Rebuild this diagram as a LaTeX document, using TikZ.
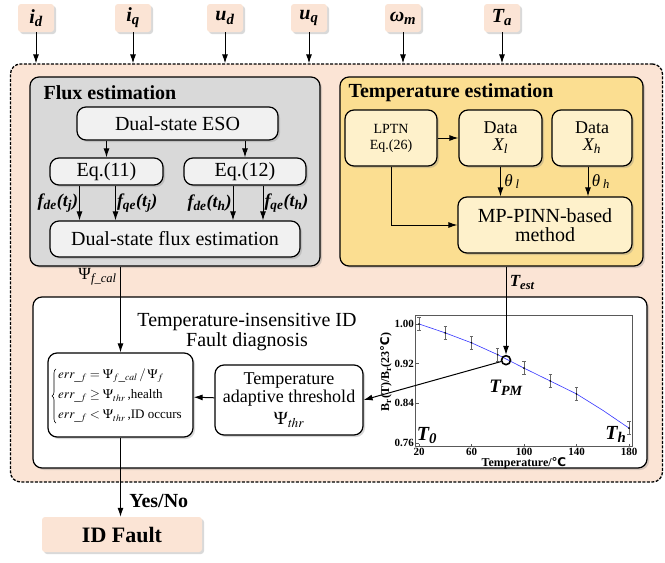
\documentclass[tikz,border=0pt]{standalone}
\usepackage{mathptmx}
\usepackage{fontspec}
\setmainfont{Liberation Serif}
\newfontfamily\dejavu{DejaVu Sans}
\usetikzlibrary{arrows.meta,shadows,decorations.pathreplacing}
\definecolor{peach}{HTML}{FBE4D5}
\definecolor{graybg}{HTML}{D9D9D9}
\definecolor{graybox}{HTML}{F1F1F1}
\definecolor{yellowbg}{HTML}{FBDE91}
\definecolor{yellowbox}{HTML}{FEF1CB}
\newcommand{\degc}{{\dejavu\char"2103}}
\newcommand{\fs}[1]{\fontsize{#1}{\numexpr#1+4\relax}\selectfont}

\begin{document}
\begin{tikzpicture}[x=1pt,y=-1pt,auto,
  >={Latex[length=9pt,width=6pt]},
  shd/.style={drop shadow={shadow xshift=2pt,shadow yshift=-2pt,opacity=0.3}},
  inp/.style={fill=peach,rounded corners=3,minimum width=36,minimum height=28,inner sep=0,shd},
  blk/.style={draw,line width=1.2pt,rounded corners=9,inner sep=0,align=center,shd},
  gbox/.style={blk,fill=graybox},
  ybox/.style={blk,fill=yellowbox},
  wbox/.style={blk,fill=white},
  flow/.style={line width=1pt}]
\useasboundingbox (0,0) rectangle (665,563);

\node[inp] (id) at (36,18) {\fs{20}\textbf{\textit{i\textsubscript{d}}}};
\node[inp] (iq) at (133,18) {\fs{20}\textbf{\textit{i\textsubscript{q}}}};
\node[inp] (ud) at (225,18) {\fs{20}\textbf{\textit{u\textsubscript{d}}}};
\node[inp] (uq) at (309,18) {\fs{20}\textbf{\textit{u\textsubscript{q}}}};
\node[inp] (wm) at (403,18) {\fs{20}\textbf{\textit{ω\textsubscript{m}}}};
\node[inp] (ta) at (502,18) {\fs{20}\textbf{\textit{T\textsubscript{a}}}};

\node[draw,line width=1.3pt,dash pattern=on 3pt off 1.5pt,rounded corners=10,fill=peach,
  minimum width=652,minimum height=418,inner sep=0] (outer) at (336.5,273) {};

\foreach \n in {id,iq,ud,uq,wm,ta}
  \draw[->,flow] (\n.south) -- (\n.south |- outer.north);

\node[blk,fill=graybg,minimum width=290,minimum height=189] (flux) at (175,171.5) {};
\node[anchor=west] (fluxt) at (40,93) {\fs{20}\textbf{Flux estimation}};
\node[gbox,minimum width=201,minimum height=33] (eso) at (177.5,123.5) {\fs{20}Dual-state ESO};
\node[gbox,minimum width=113,minimum height=27] (eq11) at (106.5,171.5) {\fs{20}Eq.(11)};
\node[gbox,minimum width=122,minimum height=27] (eq12) at (245,171.5) {\fs{20}Eq.(12)};
\node[gbox,minimum width=250,minimum height=36] (dfe) at (175,239) {\fs{20}Dual-state flux estimation};
\draw[->,flow] (eso.south -| eq11.north) -- (eq11.north);
\draw[->,flow] (eso.south -| eq12.north) -- (eq12.north);
\draw[->,flow] ([xshift=-27]eq11.south) to node[swap,inner sep=1pt]{\fs{18}\textbf{\textit{f\textsubscript{de}(t\textsubscript{j})}}} ([xshift=-27]eq11.south |- dfe.north);
\draw[->,flow] ([xshift=9]eq11.south) to node[inner sep=1pt]{\fs{18}\textbf{\textit{f\textsubscript{qe}(t\textsubscript{j})}}} ([xshift=9]eq11.south |- dfe.north);
\draw[->,flow] ([xshift=-12]eq12.south) to node[swap,inner sep=1pt]{\fs{18}\textbf{\textit{f\textsubscript{de}(t\textsubscript{h})}}} ([xshift=-12]eq12.south |- dfe.north);
\draw[->,flow] ([xshift=18]eq12.south) to node[inner sep=1pt]{\fs{18}\textbf{\textit{f\textsubscript{qe}(t\textsubscript{h})}}} ([xshift=18]eq12.south |- dfe.north);

\node[blk,fill=yellowbg,minimum width=303,minimum height=189] (temp) at (491.5,171.5) {};
\node[anchor=west] (tempt) at (345,93) {\fs{20}\textbf{Temperature estimation}};
\node[ybox,minimum width=92,minimum height=56] (lptn) at (391,138) {\fs{14}LPTN\\[4pt]\fs{14}Eq.(26)};
\node[ybox,minimum width=83,minimum height=56] (datal) at (500.5,138) {\fs{18}Data\\[5pt]\fs{18}\textit{X\textsubscript{l}}};
\node[ybox,minimum width=80,minimum height=56] (datah) at (592,138) {\fs{18}Data\\[5pt]\fs{18}\textit{X\textsubscript{h}}};
\node[ybox,minimum width=174,minimum height=56] (mp) at (545,225) {\fs{20}MP-PINN-based\\[4pt]\fs{20}method};
\draw[->,flow] (lptn) -- (datal);
\draw[->,flow] (lptn.south) |- (mp.west);
\draw[->,flow] (datal.south) to node{\fs{17}\textit{θ\,\textsubscript{l}}} (datal.south |- mp.north);
\draw[->,flow] ([xshift=-4]datah.south) to node{\fs{17}\textit{θ\,\textsubscript{h}}} ([xshift=-4]datah.south |- mp.north);

\node[blk,fill=white,minimum width=614,minimum height=171] (diag) at (340,382.5) {};
\node[align=center] (diagt) at (247,332) {\fs{20}Temperature-insensitive ID\\\fs{20}Fault diagnosis};
\node[wbox,minimum width=145,minimum height=84] (eqb) at (120.5,395) {};
\node[align=left,anchor=west,inner sep=0] (eqt) at (58,396)
  {\fs{13}$err_{\_f}=\Psi_{f\_cal}\,/\,\Psi_f$\\[6pt]
   \fs{13}$err_{\_f}\geq\Psi_{thr}$\,,health\\[6pt]
   \fs{13}$err_{\_f}<\Psi_{thr}$\,,ID occurs};
\draw[line width=0.6pt,decorate,decoration={brace,amplitude=4pt}]
  ([xshift=-2pt]eqt.south west) -- ([xshift=-2pt]eqt.north west);
\node[wbox,minimum width=148,minimum height=70] (thr) at (289,400)
  {\fs{18}Temperature\\[1pt]\fs{18}adaptive threshold\\[4pt]\fs{18}$\Psi_{\mathit{thr}}$};
\draw[->,flow] (thr) -- (eqb);
\draw[->,flow] (flux.south -| eqb.north) to node[swap,pos=0.12]{\fs{17}Ψ\textsubscript{\textit{f\_cal}}} (eqb.north);

\node[rotate=90] (ylab) at (386,372) {\fs{12}\textbf{B\textsubscript{r}(T)/B\textsubscript{r}(23\degc)}};
\begin{scope}[shift={(392.75,819.96)},x=1.3125pt,y=496pt]
  \draw[line width=1pt,gray!70!black] (17,0.752) rectangle (182.3,1.018);
  \foreach \v in {1.00,0.92,0.84,0.76} {
    \draw[gray!70!black] (17,\v) -- (20,\v);
    \node[left,inner sep=1pt] at (17,\v) {\fs{11}\textbf{\v}};
  }
  \foreach \t in {20,60,100,140,180} {
    \draw[gray!70!black] (\t,0.752) -- (\t,0.757);
    \node[below,inner sep=1pt] at (\t,0.752) {\fs{11}\textbf{\t}};
  }
  \node (xlab) at (100,0.72) {\fs{12}\textbf{Temperature/\degc}};
  \draw[blue!80,line width=0.6pt] (20,1.00) -- (40,0.982) -- (60,0.962) -- (80,0.938) -- (100,0.911)
    -- (120,0.885) -- (140,0.859) -- (160,0.826) -- (180,0.79);
  \foreach \t/\v in {20/1.00,40/0.982,60/0.962,80/0.938,100/0.911,120/0.885,140/0.859,180/0.79} {
    \draw[gray!80!black,line width=0.6pt] (\t,{\v-0.013}) -- (\t,{\v+0.013});
    \draw[gray!80!black,line width=0.6pt] (\t-1.3,{\v-0.013}) -- (\t+1.3,{\v-0.013});
    \draw[gray!80!black,line width=0.6pt] (\t-1.3,{\v+0.013}) -- (\t+1.3,{\v+0.013});
    \fill (\t,\v) circle (0.9pt);
  }
  \node[circle,draw,line width=1.6pt,minimum size=9,inner sep=0] (tpm) at (86.3,0.927) {};
  \node (tpml) at (86.3,0.871) {\fs{19}\textbf{\textit{T\textsubscript{PM}}}};
  \node (t0) at (26,0.775) {\fs{20}\textbf{\textit{T\textsubscript{0}}}};
  \node (th) at (170,0.777) {\fs{20}\textbf{\textit{T\textsubscript{h}}}};
\end{scope}
\draw[->,flow] (temp.south -| tpm.north) to node[pos=0.18]{\fs{17}\textbf{\textit{T\textsubscript{est}}}} (tpm.north);
\draw[->,flow] (tpm) -- (thr.east);

\node[fill=peach,rounded corners=3,minimum width=160,minimum height=35,inner sep=0,shd] (idf) at (122,534.5)
  {\fs{22}\textbf{ID Fault}};
\draw[->,flow] (eqb.south) to node[pos=0.8,xshift=5pt]{\fs{20}\textbf{Yes/No}} (eqb.south |- idf.north);
\end{tikzpicture}
\end{document}
